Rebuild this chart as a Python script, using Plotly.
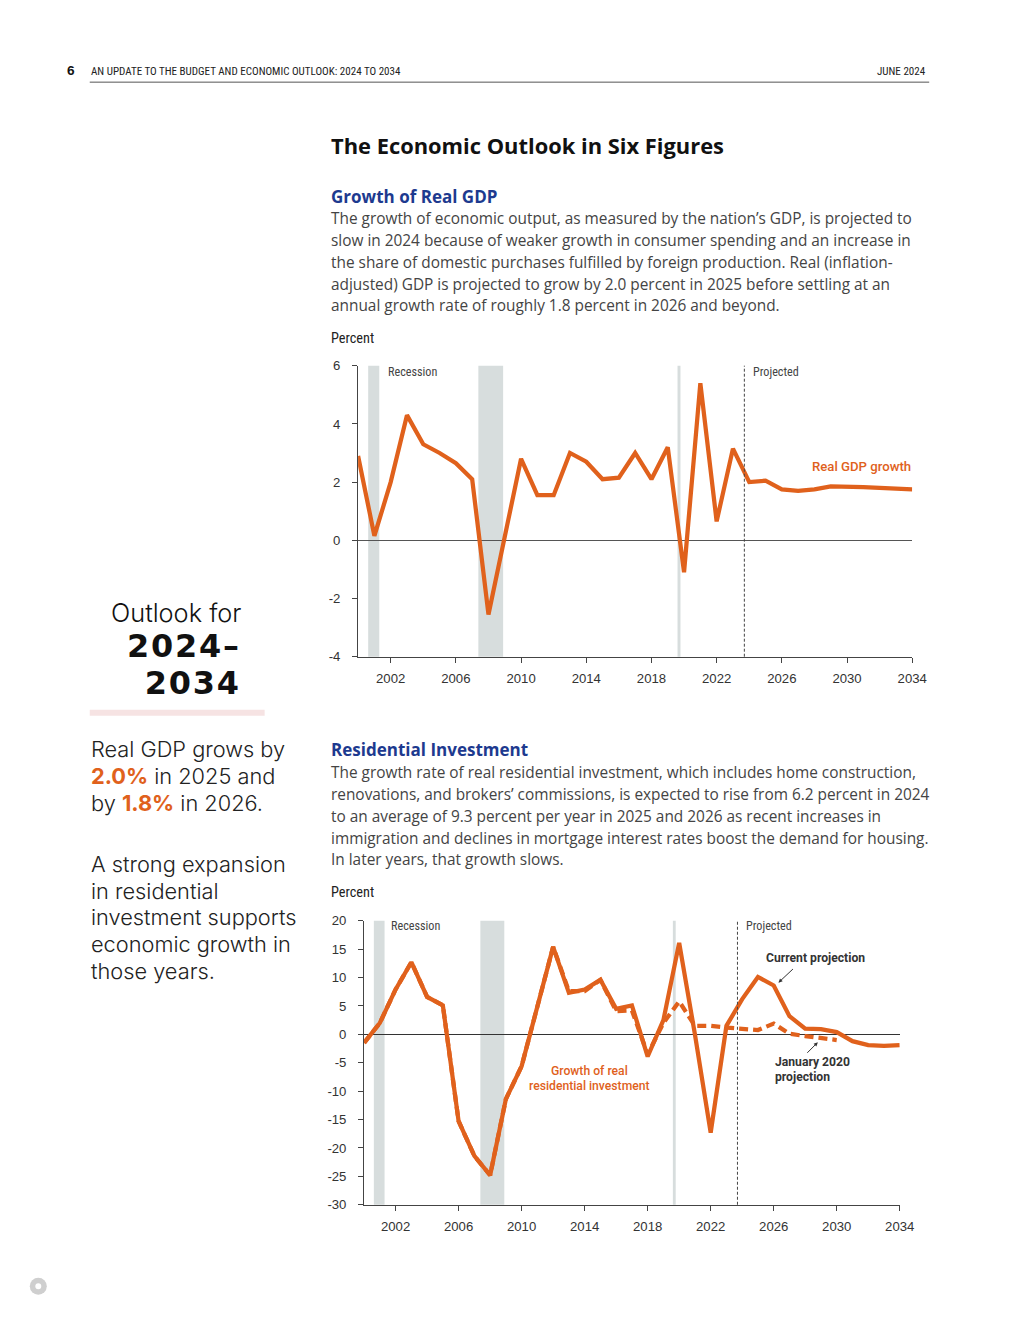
import plotly.graph_objects as go

# page geometry: figure drawn 8px in from the page edge (default body margin)
OX, OY = 8, 8
FW, FH = 1004, 1304
# measured mapping of page pixels to the photographed picture
SX, BX = 0.9857, 0.3
SY, BY = 0.9884, 6.45
FS = 1 / 0.987

ORANGE = "#E0611C"
BLUE = "#1D3A8F"
GRAY_BAND = "#D7DDDD"
BODY_FONT = "Open Sans"
SIDE_FONT = "Inter"
NARROW = "Roboto Condensed, Liberation Sans Narrow, Liberation Sans"
TICK_FONT = "Liberation Sans"
LABEL_FONT = "Roboto"

# ---------------- data ----------------
gdp_years = list(range(2000, 2035))
gdp_growth = [2.9, 0.15, 2.0, 4.3, 3.3, 3.0, 2.65, 2.1, -2.55, 0.1,
              2.8, 1.55, 1.55, 3.0, 2.7, 2.1, 2.15, 3.0, 2.1, 3.2,
              -1.1, 5.4, 0.65, 3.15, 2.0, 2.05, 1.75, 1.7, 1.75, 1.85,
              1.85, 1.83, 1.8, 1.78, 1.75]

res_years = list(range(2000, 2035))
res_current = [-1.5, 2.0, 7.9, 12.7, 6.6, 5.1, -15.3, -21.4, -24.8, -11.4,
               -5.6, 4.8, 15.4, 7.3, 7.9, 9.6, 4.5, 5.1, -3.9, 2.5,
               16.1, 0.0, -17.3, 1.5, 6.2, 10.1, 8.6, 3.2, 1.0, 0.9,
               0.4, -1.2, -1.9, -2.05, -1.9]

jan2020_years = list(range(2000, 2031))
res_jan2020 = [-1.5, 2.0, 7.9, 12.7, 6.6, 5.1, -15.3, -21.4, -24.8, -11.4,
               -5.6, 4.8, 15.4, 7.6, 7.6, 9.6, 4.1, 4.2, -3.5, 2.0,
               5.8, 1.5, 1.5, 1.2, 1.0, 0.75, 1.9, 0.1, -0.3, -0.6,
               -1.0]

recessions = [(2000.62, 2001.3), (2007.38, 2008.9), (2019.6, 2019.78)]
projected_start = 2023.7
year_ticks = [2002, 2006, 2010, 2014, 2018, 2022, 2026, 2030, 2034]
gdp_ticks = [-4, -2, 0, 2, 4, 6]
gdp_tick_text = ["-4", "-2", "0", "2", "4", "6"]
res_ticks = [-30, -25, -20, -15, -10, -5, 0, 5, 10, 15, 20]
res_tick_text = ["-30", "-25", "-20", "-15", "-10", "-5", "0", "5", "10", "15", "20"]


def xp(t):
    return ((t - BX) / SX - OX) / FW


def yp(t):
    return 1 - ((t - BY) / SY - OY) / FH


def fs(s):
    return round(s * FS, 2)


fig = go.Figure()

LW = 4.2 * FS
fig.add_trace(go.Scatter(x=gdp_years, y=gdp_growth, mode="lines",
                         line=dict(color=ORANGE, width=LW),
                         xaxis="x", yaxis="y", showlegend=False,
                         hoverinfo="skip"))
fig.add_trace(go.Scatter(x=jan2020_years, y=res_jan2020, mode="lines",
                         line=dict(color=ORANGE, width=LW, dash="9px,5px"),
                         xaxis="x2", yaxis="y2", showlegend=False,
                         hoverinfo="skip"))
fig.add_trace(go.Scatter(x=res_years, y=res_current, mode="lines",
                         line=dict(color=ORANGE, width=LW),
                         xaxis="x2", yaxis="y2", showlegend=False,
                         hoverinfo="skip"))

axis_common = dict(showgrid=False, showline=True, linecolor="#444",
                   linewidth=1, ticks="outside", ticklen=5, tickwidth=1,
                   tickcolor="#444",
                   tickfont=dict(family=TICK_FONT, size=fs(13), color="#333"),
                   fixedrange=True)

fig.update_layout(
    width=FW, height=FH,
    margin=dict(l=0, r=0, t=0, b=0),
    paper_bgcolor="white", plot_bgcolor="rgba(0,0,0,0)",
    xaxis=dict(axis_common, domain=[xp(358.5), xp(913)], range=[2000, 2034],
               tickvals=year_ticks, anchor="y", zeroline=False,
               ticklabelstandoff=4),
    yaxis=dict(axis_common, domain=[yp(656), yp(365)], range=[-4, 6],
               tickvals=gdp_ticks, ticktext=gdp_tick_text, anchor="x",
               zeroline=True, zerolinecolor="#555", zerolinewidth=1,
               ticklabelstandoff=9),
    xaxis2=dict(axis_common, domain=[xp(364.5), xp(900.5)], range=[2000, 2034],
                tickvals=year_ticks, anchor="y2", zeroline=False,
                ticklabelstandoff=4),
    yaxis2=dict(axis_common, domain=[yp(1204), yp(920)], range=[-30, 20],
                tickvals=res_ticks, ticktext=res_tick_text, anchor="x2",
                zeroline=True, zerolinecolor="#333", zerolinewidth=1,
                ticklabelstandoff=9),
)

shapes = []
for xr, yr in (("x", "y"), ("x2", "y2")):
    for a, b in recessions:
        shapes.append(dict(type="rect", xref=xr, yref=yr + " domain",
                           x0=a, x1=b, y0=0, y1=1, fillcolor=GRAY_BAND,
                           line=dict(width=0), layer="below"))
    shapes.append(dict(type="line", xref=xr, yref=yr + " domain",
                       x0=projected_start, x1=projected_start, y0=0, y1=1,
                       line=dict(color="#444", width=1, dash="3px,2px"),
                       layer="above"))

shapes.append(dict(type="line", xref="paper", yref="paper",
                   x0=xp(90), x1=xp(930), y0=yp(81.5), y1=yp(81.5),
                   line=dict(color="#555", width=1)))
shapes.append(dict(type="rect", xref="paper", yref="paper",
                   x0=xp(90), x1=xp(265), y0=yp(715), y1=yp(709),
                   fillcolor="#F6E3E3", line=dict(width=0)))
shapes.append(dict(type="circle", xref="paper", yref="paper",
                   x0=xp(30), x1=xp(47), y0=yp(1294), y1=yp(1277),
                   fillcolor="#CFCFCF", line=dict(width=0)))
shapes.append(dict(type="circle", xref="paper", yref="paper",
                   x0=xp(35.5), x1=xp(41.5), y0=yp(1288.5), y1=yp(1282.5),
                   fillcolor="white", line=dict(width=0)))
fig.update_layout(shapes=shapes)

ann = []


def txt(x, y, s, size, color="#444", family=BODY_FONT, xanchor="left",
        weight=None, align=None, yanchor="middle"):
    f = dict(family=family, size=fs(size), color=color)
    if weight is not None:
        f["weight"] = weight
    d = dict(x=xp(x), y=yp(y), xref="paper", yref="paper", text=s,
             showarrow=False, xanchor=xanchor, yanchor=yanchor, font=f)
    if align:
        d["align"] = align
    ann.append(d)


# header
txt(65, 70, "<b>6</b>", 13.5, "#111", "Liberation Sans")
txt(89, 71, "AN UPDATE TO THE BUDGET AND ECONOMIC OUTLOOK: 2024 TO 2034", 10.9, "#222", NARROW)
txt(929, 71, "JUNE 2024", 10.9, "#222", NARROW, "right")

# title
txt(329, 145, "<b>The Economic Outlook in Six Figures</b>", 21.6, "#111")

# section 1
txt(329, 196, "<b>Growth of Real GDP</b>", 16.8, BLUE)
para1 = [
    "The growth of economic output, as measured by the nation’s GDP, is projected to",
    "slow in 2024 because of weaker growth in consumer spending and an increase in",
    "the share of domestic purchases fulfilled by foreign production. Real (inflation-",
    "adjusted) GDP is projected to grow by 2.0 percent in 2025 before settling at an",
    "annual growth rate of roughly 1.8 percent in 2026 and beyond.",
]
for i, line in enumerate(para1):
    txt(329, 218 + i * 21.8, line, 15.2, "#444")
txt(329, 337, "Percent", 14.1, "#222", NARROW)

# section 2
txt(329, 749, "<b>Residential Investment</b>", 16.8, BLUE)
para2 = [
    "The growth rate of real residential investment, which includes home construction,",
    "renovations, and brokers’ commissions, is expected to rise from 6.2 percent in 2024",
    "to an average of 9.3 percent per year in 2025 and 2026 as recent increases in",
    "immigration and declines in mortgage interest rates boost the demand for housing.",
    "In later years, that growth slows.",
]
for i, line in enumerate(para2):
    txt(329, 772 + i * 21.8, line, 15.2, "#444")
txt(329, 891, "Percent", 14.1, "#222", NARROW)

# sidebar
txt(243, 612, "Outlook for", 25, "#111", SIDE_FONT, "right", weight=300)
big = f"<span style=\"font-family:DejaVu Sans;font-size:{fs(31.5)}px;font-weight:bold;letter-spacing:1.8px\">"
txt(243, 664, big + "2024–</span><br>" + big + "2034</span>", 28.2, "#111",
    BODY_FONT, "right", align="right")

side1 = [
    "Real GDP grows by",
    f"<span style=\"color:{ORANGE}\"><b>2.0%</b></span> in 2025 and",
    f"by <span style=\"color:{ORANGE}\"><b>1.8%</b></span> in 2026.",
]
for i, line in enumerate(side1):
    txt(89, 748 + i * 27, line, 21.5, "#222", SIDE_FONT, weight=300)
side2 = [
    "A strong expansion",
    "in residential",
    "investment supports",
    "economic growth in",
    "those years.",
]
for i, line in enumerate(side2):
    txt(89, 863 + i * 26.8, line, 21.5, "#222", SIDE_FONT, weight=300)

# chart labels
txt(386, 371, "Recession", 12, "#444", NARROW)
txt(752, 371, "Projected", 12, "#444", NARROW)
txt(914, 466, "Real GDP growth", 13, ORANGE, LABEL_FONT, "right", weight=500)

txt(389, 925, "Recession", 12, "#444", NARROW)
txt(745, 925, "Projected", 12, "#444", NARROW)
txt(590, 1070, "Growth of real", 12, ORANGE, LABEL_FONT, "center", weight=500)
txt(590, 1085, "residential investment", 12, ORANGE, LABEL_FONT, "center", weight=500)
txt(816, 957, "Current projection", 12, "#333", LABEL_FONT, "center", weight=700)
txt(774, 1061, "January 2020", 12, "#333", LABEL_FONT, weight=700)
txt(774, 1076, "projection", 12, "#333", LABEL_FONT, weight=700)

ann.append(dict(x=2026.3, y=9.1, xref="x2", yref="y2", ax=16, ay=-15,
                showarrow=True, arrowhead=2, arrowsize=0.8, arrowwidth=1,
                arrowcolor="#333", text=""))
ann.append(dict(x=2028.8, y=-1.4, xref="x2", yref="y2", ax=-12, ay=12,
                showarrow=True, arrowhead=2, arrowsize=0.8, arrowwidth=1,
                arrowcolor="#333", text=""))

fig.update_layout(annotations=ann)

fig.write_html("out.html", config={"displayModeBar": False})
